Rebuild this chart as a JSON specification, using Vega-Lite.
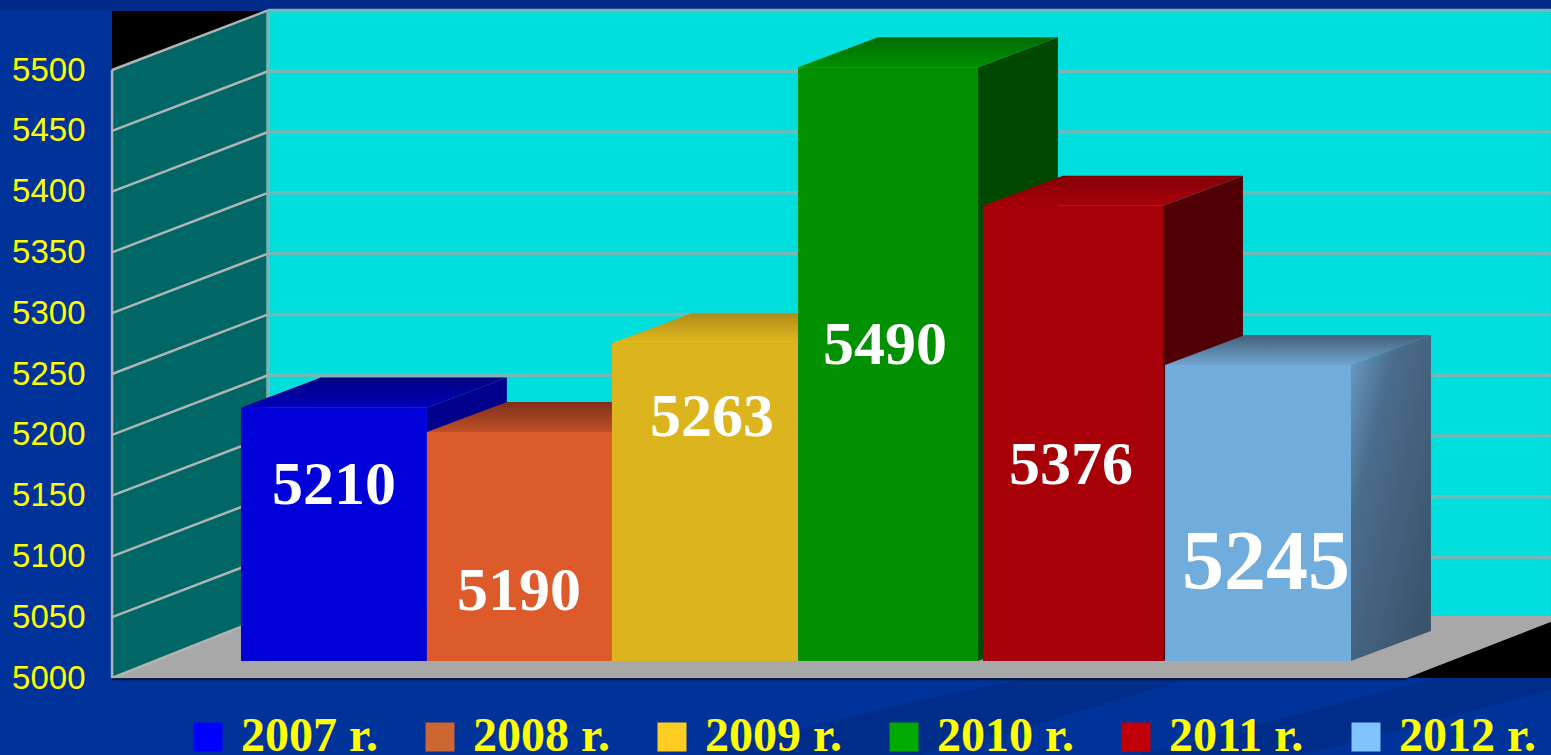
{
"$schema":"https://vega.github.io/schema/vega-lite/v6.json",
"width":1551,"height":755,"padding":0,"autosize":{"type":"none"},"background":"#003399",
"view":{"stroke":null},
"datasets":{
"bars":[
{"year":"2007 r.","front":"2007 front","x0":0,"x1":1.005,"value":5210},
{"year":"2008 r.","front":"2008 front","x0":1.005,"x1":2.005,"value":5190},
{"year":"2009 r.","front":"2009 front","x0":2.005,"x1":3.011,"value":5263},
{"year":"2010 r.","front":"2010 front","x0":3.011,"x1":3.984,"value":5490},
{"year":"2011 r.","front":"2011 front","x0":4.011,"x1":4.984,"value":5376},
{"year":"2012 r.","front":"2012 front","x0":4.995,"x1":6,"value":5245}],
"panels":[
{"part":"band","x":2.481,"y":4936.7,"y2":4936.7},{"part":"band","x":3.67,"y":4981.9,"y2":4936.7},{"part":"band","x":4.254,"y":5000,"y2":4959.7},{"part":"band","x":5.13,"y":5000,"y2":5000},
{"part":"band2","x":4.859,"y":4936.7,"y2":4936.7},{"part":"band2","x":5.73,"y":4971.2,"y2":4936.7},{"part":"band2","x":6.465,"y":5000,"y2":4965.5},{"part":"band2","x":7.081,"y":5000,"y2":4990.1},
{"part":"topband","x":-1.303,"y":5557.6,"y2":5548.5},{"part":"topband","x":7.081,"y":5557.6,"y2":5548.5},
{"part":"black1","x":-0.697,"y":5548.5,"y2":5500},{"part":"black1","x":0.146,"y":5548.5,"y2":5548.5},
{"part":"wall","x":0.146,"y":5548.5,"y2":5051},{"part":"wall","x":7.081,"y":5548.5,"y2":5051},
{"part":"side wall","x":-0.697,"y":5500,"y2":5000},{"part":"side wall","x":0.146,"y":5549,"y2":5051},
{"part":"floor","x":-0.697,"y":5000,"y2":5000},{"part":"floor","x":0.146,"y":5051,"y2":5000},{"part":"floor","x":6.303,"y":5051,"y2":5000},{"part":"floor","x":7.081,"y":5051,"y2":5046},
{"part":"black2","x":6.303,"y":5000,"y2":5000},{"part":"black2","x":7.081,"y":5046,"y2":5000}],
"lines":[
{"part":"left","xa":-0.697,"xb":0.146,"ya":5000,"yb":5051},
{"part":"left","xa":-0.697,"xb":0.146,"ya":5050,"yb":5099},
{"part":"left","xa":-0.697,"xb":0.146,"ya":5100,"yb":5149},
{"part":"left","xa":-0.697,"xb":0.146,"ya":5150,"yb":5199},
{"part":"left","xa":-0.697,"xb":0.146,"ya":5200,"yb":5249},
{"part":"left","xa":-0.697,"xb":0.146,"ya":5250,"yb":5299},
{"part":"left","xa":-0.697,"xb":0.146,"ya":5300,"yb":5349},
{"part":"left","xa":-0.697,"xb":0.146,"ya":5350,"yb":5399},
{"part":"left","xa":-0.697,"xb":0.146,"ya":5400,"yb":5449},
{"part":"left","xa":-0.697,"xb":0.146,"ya":5450,"yb":5499},
{"part":"left","xa":-0.697,"xb":0.146,"ya":5500,"yb":5549},
{"part":"left","xa":-0.697,"xb":-0.697,"ya":5000,"yb":5500},
{"part":"back","xa":0.146,"xb":0.146,"ya":5051,"yb":5549},
{"part":"back","xa":0.146,"xb":7.081,"ya":5099,"yb":5099},
{"part":"back","xa":0.146,"xb":7.081,"ya":5149,"yb":5149},
{"part":"back","xa":0.146,"xb":7.081,"ya":5199,"yb":5199},
{"part":"back","xa":0.146,"xb":7.081,"ya":5249,"yb":5249},
{"part":"back","xa":0.146,"xb":7.081,"ya":5299,"yb":5299},
{"part":"back","xa":0.146,"xb":7.081,"ya":5349,"yb":5349},
{"part":"back","xa":0.146,"xb":7.081,"ya":5399,"yb":5399},
{"part":"back","xa":0.146,"xb":7.081,"ya":5449,"yb":5449},
{"part":"back","xa":0.146,"xb":7.081,"ya":5499,"yb":5499},
{"part":"back","xa":0.146,"xb":7.081,"ya":5549,"yb":5549},
{"part":"base","xa":-0.697,"xb":6.303,"ya":4999,"yb":4999}],
"sides":[
{"part":"2007 side","x":1.005,"y":5210,"y2":5000},{"part":"2007 side","x":1.437,"y":5234.7,"y2":5024.7},
{"part":"2008 side","x":2.005,"y":5190,"y2":5000},{"part":"2008 side","x":2.437,"y":5214.7,"y2":5024.7},
{"part":"2009 side","x":3.011,"y":5263,"y2":5000},{"part":"2009 side","x":3.443,"y":5287.7,"y2":5024.7},
{"part":"2010 side","x":3.984,"y":5490,"y2":5000},{"part":"2010 side","x":4.416,"y":5514.7,"y2":5024.7},
{"part":"2011 side","x":4.984,"y":5376,"y2":5000},{"part":"2011 side","x":5.416,"y":5400.7,"y2":5024.7},
{"part":"2012 side","x":6,"y":5245,"y2":5000},{"part":"2012 side","x":6.432,"y":5269.7,"y2":5024.7}],
"tops":[
{"bar":2007,"x":0,"y":5210,"y2":5210},{"bar":2007,"x":0.432,"y":5234.7,"y2":5210},{"bar":2007,"x":1.005,"y":5234.7,"y2":5210},{"bar":2007,"x":1.437,"y":5234.7,"y2":5234.7},
{"bar":2008,"x":1.005,"y":5190,"y2":5190},{"bar":2008,"x":1.437,"y":5214.7,"y2":5190},{"bar":2008,"x":2.005,"y":5214.7,"y2":5190},{"bar":2008,"x":2.437,"y":5214.7,"y2":5214.7},
{"bar":2009,"x":2.005,"y":5263,"y2":5263},{"bar":2009,"x":2.437,"y":5287.7,"y2":5263},{"bar":2009,"x":3.011,"y":5287.7,"y2":5263},{"bar":2009,"x":3.443,"y":5287.7,"y2":5287.7},
{"bar":2010,"x":3.011,"y":5490,"y2":5490},{"bar":2010,"x":3.443,"y":5514.7,"y2":5490},{"bar":2010,"x":3.984,"y":5514.7,"y2":5490},{"bar":2010,"x":4.416,"y":5514.7,"y2":5514.7},
{"bar":2011,"x":4.011,"y":5376,"y2":5376},{"bar":2011,"x":4.443,"y":5400.7,"y2":5376},{"bar":2011,"x":4.984,"y":5400.7,"y2":5376},{"bar":2011,"x":5.416,"y":5400.7,"y2":5400.7},
{"bar":2012,"x":4.995,"y":5245,"y2":5245},{"bar":2012,"x":5.427,"y":5269.7,"y2":5245},{"bar":2012,"x":6,"y":5269.7,"y2":5245},{"bar":2012,"x":6.432,"y":5269.7,"y2":5269.7}],
"labels":[
{"text":"5210","x":0.503,"y":5158.8},
{"text":"5190","x":1.503,"y":5071.4},
{"text":"5263","x":2.546,"y":5214.4},
{"text":"5490","x":3.481,"y":5273.9},
{"text":"5376","x":4.486,"y":5175.4},
{"text":"5245","x":5.541,"y":5094}]
},
"encoding":{
"x":{"type":"quantitative","scale":{"domain":[-1.3027,7.0811],"nice":false,"zero":false},"axis":null},
"y":{"type":"quantitative","scale":{"domain":[4936.68,5557.57],"nice":false,"zero":false},
"axis":{"title":null,"values":[5000,5050,5100,5150,5200,5250,5300,5350,5400,5450,5500],"offset":-112,"zindex":1,"domain":false,"ticks":false,"grid":false,"labelColor":"#ffff00","labelFont":"Liberation Sans","labelFontSize":33,"labelPadding":27,"format":"d"}}
},
"layer":[
{"data":{"name":"panels"},"mark":{"type":"area","orient":"vertical"},
"encoding":{"x":{"field":"x"},"y":{"field":"y"},"y2":{"field":"y2"},
"color":{"field":"part","type":"nominal","legend":null,"scale":{"domain":["band","band2","topband","black1","wall","side wall","floor","black2","2007 side","2008 side","2009 side","2010 side","2011 side","2007 front","2008 front","2009 front","2010 front","2011 front","2012 front"],
"range":["#002d8a","#002d8a","#002a88","#000000","#00dede","#006666","#a8a8a8","#000000","#00008c","#7a3418","#96780f","#004800","#500004","#0000d8","#dd5a2b","#dcb41e","#009000","#a80008","#70acdc"]}}}},
{"data":{"name":"lines"},"transform":[{"filter":"datum.part==='left'"}],"mark":{"type":"rule","color":"#b0b4b4","strokeWidth":2.5},
"encoding":{"x":{"field":"xa"},"x2":{"field":"xb"},"y":{"field":"ya"},"y2":{"field":"yb"}}},
{"data":{"name":"lines"},"transform":[{"filter":"datum.part==='back'"}],"mark":{"type":"rule","color":"#74b8b8","strokeWidth":3.5},
"encoding":{"x":{"field":"xa"},"x2":{"field":"xb"},"y":{"field":"ya"},"y2":{"field":"yb"}}},
{"data":{"name":"lines"},"transform":[{"filter":"datum.part==='base'"}],"mark":{"type":"rule","color":"#101830","strokeWidth":2},
"encoding":{"x":{"field":"xa"},"x2":{"field":"xb"},"y":{"field":"ya"},"y2":{"field":"yb"}}},
{"data":{"name":"sides"},"transform":[{"filter":"datum.part!=='2012 side'"}],"mark":{"type":"area","orient":"vertical","yOffset":-15,"y2Offset":-17},
"encoding":{"x":{"field":"x"},"y":{"field":"y"},"y2":{"field":"y2"},"color":{"field":"part","type":"nominal","legend":null}}},
{"data":{"name":"sides"},"transform":[{"filter":"datum.part==='2012 side'"}],"mark":{"type":"area","orient":"vertical","yOffset":-15,"y2Offset":-17,"fill":{"gradient":"linear","x1":0,"y1":0,"x2":1,"y2":1,"stops":[{"offset":0,"color":"#6d9dc8"},{"offset":0.3,"color":"#4a6c8c"},{"offset":1,"color":"#384f66"}]}},
"encoding":{"x":{"field":"x"},"y":{"field":"y"},"y2":{"field":"y2"}}},
{"data":{"name":"tops"},"transform":[{"filter":"datum.bar===2007"}],"mark":{"type":"area","orient":"vertical","yOffset":-15,"y2Offset":-15,"fill":{"gradient":"linear","x1":0,"y1":0,"x2":0,"y2":1,"stops":[{"offset":0,"color":"#000080"},{"offset":1,"color":"#0000b8"}]}},
"encoding":{"x":{"field":"x"},"y":{"field":"y"},"y2":{"field":"y2"}}},
{"data":{"name":"tops"},"transform":[{"filter":"datum.bar===2008"}],"mark":{"type":"area","orient":"vertical","yOffset":-15,"y2Offset":-15,"fill":{"gradient":"linear","x1":0,"y1":0,"x2":0,"y2":1,"stops":[{"offset":0,"color":"#7e3018"},{"offset":1,"color":"#c04f26"}]}},
"encoding":{"x":{"field":"x"},"y":{"field":"y"},"y2":{"field":"y2"}}},
{"data":{"name":"tops"},"transform":[{"filter":"datum.bar===2009"}],"mark":{"type":"area","orient":"vertical","yOffset":-15,"y2Offset":-15,"fill":{"gradient":"linear","x1":0,"y1":0,"x2":0,"y2":1,"stops":[{"offset":0,"color":"#b08c18"},{"offset":1,"color":"#e0b81e"}]}},
"encoding":{"x":{"field":"x"},"y":{"field":"y"},"y2":{"field":"y2"}}},
{"data":{"name":"tops"},"transform":[{"filter":"datum.bar===2010"}],"mark":{"type":"area","orient":"vertical","yOffset":-15,"y2Offset":-15,"fill":{"gradient":"linear","x1":0,"y1":0,"x2":0,"y2":1,"stops":[{"offset":0,"color":"#006c00"},{"offset":1,"color":"#009000"}]}},
"encoding":{"x":{"field":"x"},"y":{"field":"y"},"y2":{"field":"y2"}}},
{"data":{"name":"tops"},"transform":[{"filter":"datum.bar===2011"}],"mark":{"type":"area","orient":"vertical","yOffset":-15,"y2Offset":-15,"fill":{"gradient":"linear","x1":0,"y1":0,"x2":0,"y2":1,"stops":[{"offset":0,"color":"#840008"},{"offset":1,"color":"#a80008"}]}},
"encoding":{"x":{"field":"x"},"y":{"field":"y"},"y2":{"field":"y2"}}},
{"data":{"name":"tops"},"transform":[{"filter":"datum.bar===2012"}],"mark":{"type":"area","orient":"vertical","yOffset":-15,"y2Offset":-15,"fill":{"gradient":"linear","x1":0,"y1":0,"x2":0,"y2":1,"stops":[{"offset":0,"color":"#436078"},{"offset":1,"color":"#70a4d0"}]}},
"encoding":{"x":{"field":"x"},"y":{"field":"y"},"y2":{"field":"y2"}}},
{"data":{"name":"bars"},"mark":{"type":"rect","yOffset":-15,"y2Offset":-17},
"encoding":{"x":{"field":"x0"},"x2":{"field":"x1"},"y":{"field":"value"},"y2":{"datum":5000},"color":{"field":"front","type":"nominal","legend":null}}},
{"data":{"name":"labels"},"transform":[{"filter":"datum.text!=='5245'"}],"mark":{"type":"text","font":"Liberation Serif","fontWeight":"bold","fontSize":62,"color":"#ffffff","align":"center","baseline":"middle"},
"encoding":{"x":{"field":"x"},"y":{"field":"y"},"text":{"field":"text","type":"nominal"}}},
{"data":{"name":"labels"},"transform":[{"filter":"datum.text==='5245'"}],"mark":{"type":"text","font":"Liberation Serif","fontWeight":"bold","fontSize":84,"color":"#ffffff","align":"center","baseline":"middle"},
"encoding":{"x":{"field":"x"},"y":{"field":"y"},"text":{"field":"text","type":"nominal"}}},
{"data":{"name":"bars"},"mark":{"type":"square","opacity":0},
"encoding":{"x":{"field":"x0"},"y":{"field":"value"},
"fill":{"field":"year","type":"nominal","scale":{"domain":["2007 r.","2008 r.","2009 r.","2010 r.","2011 r.","2012 r."],"range":["#0000ff","#cc6633","#ffcc22","#00aa00","#c00008","#80c4ff"]},
"legend":{"title":null,"orient":"none","legendX":184,"legendY":713,"direction":"horizontal","columns":6,"symbolType":"square","symbolSize":841,"symbolOpacity":1,"symbolStrokeWidth":0,"labelFont":"Liberation Serif","labelFontWeight":"bold","labelFontSize":48,"labelColor":"#ffff00","labelOpacity":1,"labelLimit":400,"labelOffset":9,"columnPadding":38}}}}
]
}
